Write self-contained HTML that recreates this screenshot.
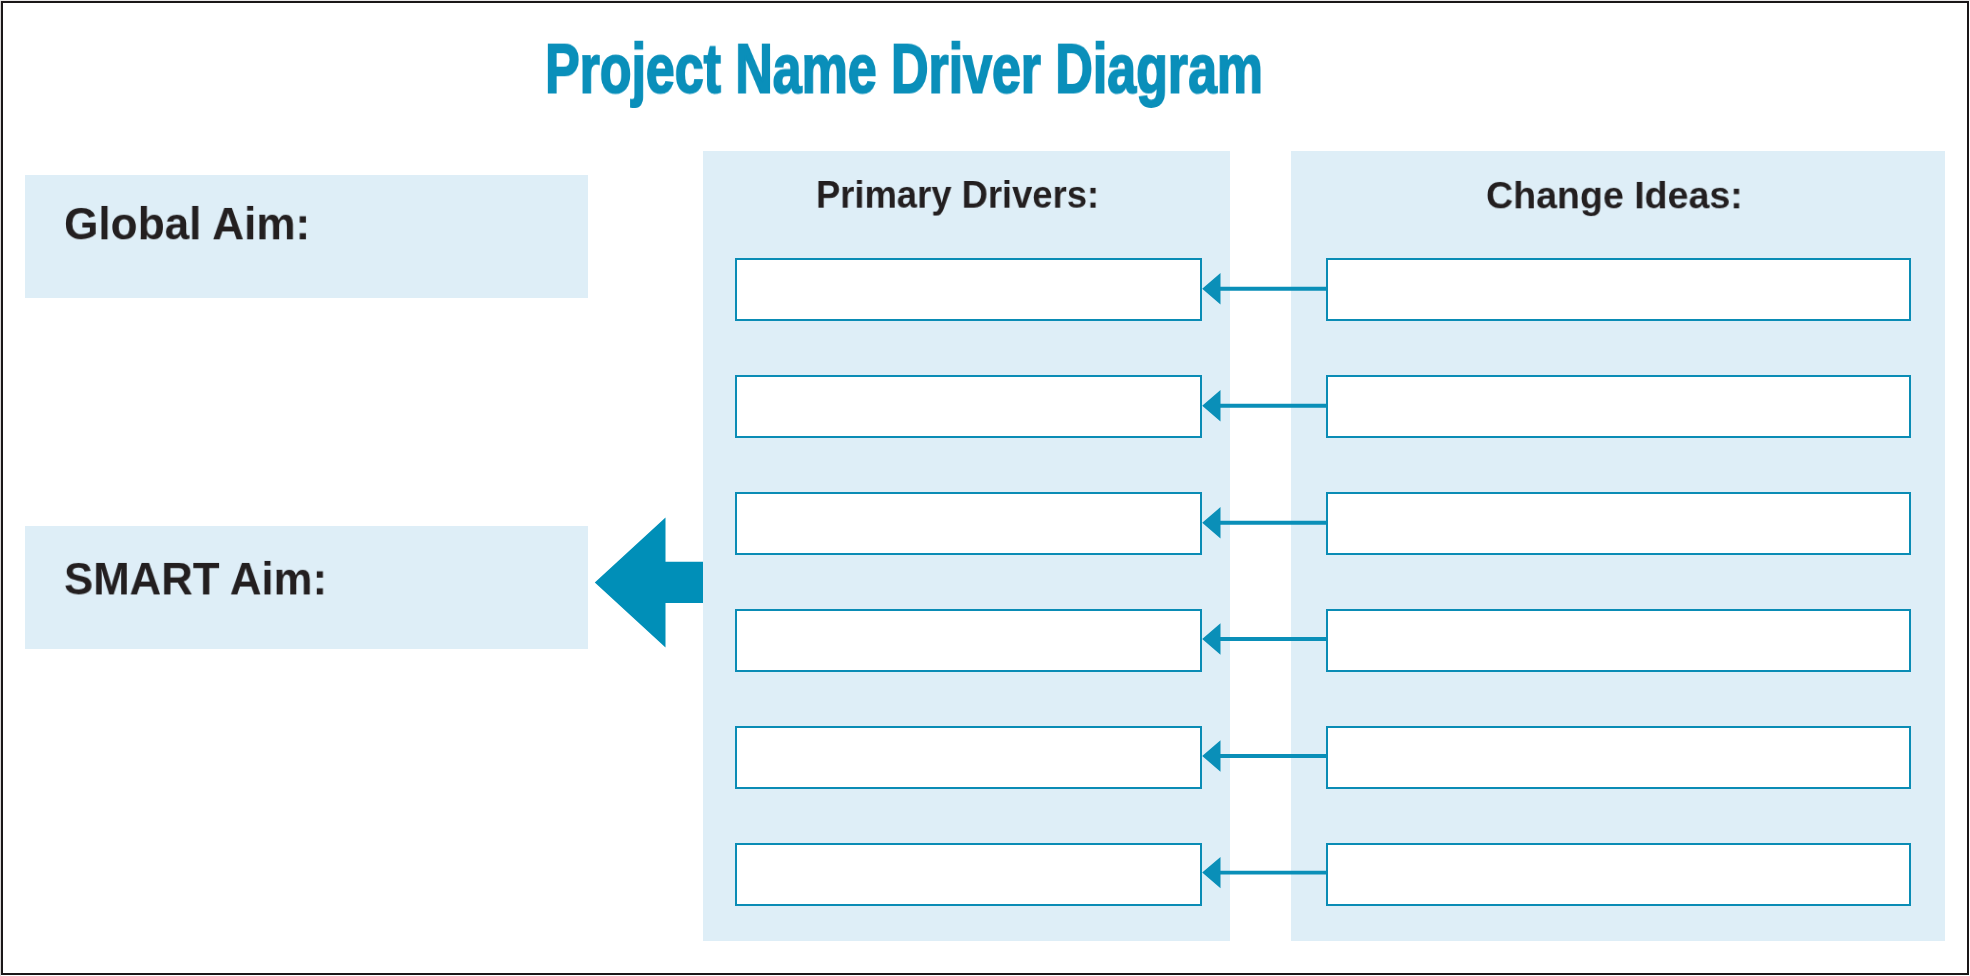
<!DOCTYPE html>
<html>
<head>
<meta charset="utf-8">
<style>
html,body{margin:0;padding:0;background:#fff;}
body{width:1970px;height:976px;position:relative;overflow:hidden;font-family:"Liberation Sans",sans-serif;}
.frame{position:absolute;left:1px;top:1px;width:1964px;height:970px;border:2px solid #1a1718;}
.edge-l{position:absolute;left:0;top:0;width:1px;height:976px;background:#d8d6d6;}
.edge-t{position:absolute;left:0;top:0;width:1970px;height:1px;background:#ebe9e9;}
.bg{position:absolute;background:#deeef7;}
.t{position:absolute;white-space:nowrap;font-weight:bold;color:#231f20;line-height:1;transform-origin:0 0;will-change:transform;}
.title{position:absolute;white-space:nowrap;font-weight:bold;color:#0a8fba;line-height:1;transform-origin:0 0;will-change:transform;}
.box{position:absolute;box-sizing:border-box;border:2px solid #0a8cb5;background:#fff;}
svg{position:absolute;left:0;top:0;}
</style>
</head>
<body>
<div class="edge-l"></div><div class="edge-t"></div>
<div class="frame"></div>

<div class="title" style="left:544.84px;top:34.4px;font-size:72.7px;-webkit-text-stroke:2px #0a8fba;transform:scale(0.7138,0.9596);">Project Name Driver Diagram</div>

<div class="bg" style="left:25px;top:175px;width:563px;height:123px;"></div>
<div class="bg" style="left:25px;top:526px;width:563px;height:123px;"></div>
<div class="bg" style="left:703px;top:151px;width:527px;height:790px;"></div>
<div class="bg" style="left:1291px;top:151px;width:654px;height:790px;"></div>

<div class="t" style="left:63.58px;top:201.43px;font-size:46px;transform:scale(0.9604,0.9812);">Global Aim:</div>
<div class="t" style="left:63.59px;top:556.31px;font-size:46px;transform:scale(0.9505,0.9844);">SMART Aim:</div>
<div class="t" style="left:816.26px;top:176.26px;font-size:38.4px;transform:scale(0.9473,0.9889);">Primary Drivers:</div>
<div class="t" style="left:1486.24px;top:176.61px;font-size:38.4px;transform:scale(0.9786,0.9778);">Change Ideas:</div>

<div class="box" style="left:735px;top:258px;width:467px;height:63px;"></div>
<div class="box" style="left:735px;top:375px;width:467px;height:63px;"></div>
<div class="box" style="left:735px;top:492px;width:467px;height:63px;"></div>
<div class="box" style="left:735px;top:609px;width:467px;height:63px;"></div>
<div class="box" style="left:735px;top:726px;width:467px;height:63px;"></div>
<div class="box" style="left:735px;top:843px;width:467px;height:63px;"></div>

<div class="box" style="left:1326px;top:258px;width:585px;height:63px;"></div>
<div class="box" style="left:1326px;top:375px;width:585px;height:63px;"></div>
<div class="box" style="left:1326px;top:492px;width:585px;height:63px;"></div>
<div class="box" style="left:1326px;top:609px;width:585px;height:63px;"></div>
<div class="box" style="left:1326px;top:726px;width:585px;height:63px;"></div>
<div class="box" style="left:1326px;top:843px;width:585px;height:63px;"></div>

<svg width="1970" height="976" viewBox="0 0 1970 976">
  <g fill="#008fb8">
    <polygon points="594.8,582.5 665.5,517.4 665.5,561.7 703,561.7 703,603.1 665.5,603.1 665.5,647.4"/>
  </g>
  <g fill="#0a8fb8">
    <polygon points="1202.2,288.80 1220.5,273.10 1220.5,286.85 1326.5,286.85 1326.5,290.75 1220.5,290.75 1220.5,304.50"/>
    <polygon points="1202.2,405.80 1220.5,390.10 1220.5,403.85 1326.5,403.85 1326.5,407.75 1220.5,407.75 1220.5,421.50"/>
    <polygon points="1202.2,522.80 1220.5,507.10 1220.5,520.85 1326.5,520.85 1326.5,524.75 1220.5,524.75 1220.5,538.50"/>
    <polygon points="1202.2,639.00 1220.5,623.30 1220.5,637.05 1326.5,637.05 1326.5,640.95 1220.5,640.95 1220.5,654.70"/>
    <polygon points="1202.2,756.00 1220.5,740.30 1220.5,754.05 1326.5,754.05 1326.5,757.95 1220.5,757.95 1220.5,771.70"/>
    <polygon points="1202.2,872.60 1220.5,856.90 1220.5,870.65 1326.5,870.65 1326.5,874.55 1220.5,874.55 1220.5,888.30"/>
  </g>
</svg>
</body>
</html>
